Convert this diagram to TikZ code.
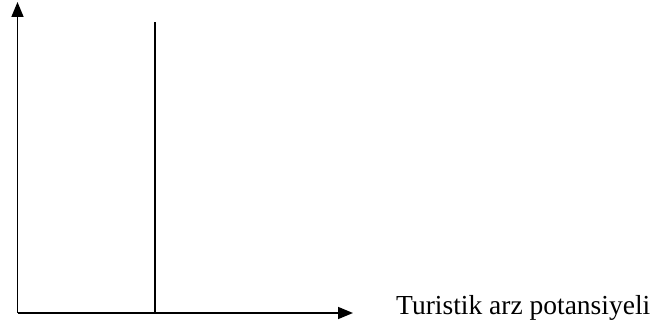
\documentclass[tikz,border=0pt]{standalone}
\usepackage{fontspec}
\setmainfont{Liberation Serif}
\usetikzlibrary{arrows.meta}
\begin{document}
\begin{tikzpicture}[x=1pt,y=-1pt,
  axis/.style={line width=1.6pt,-{Triangle[length=15pt,width=12pt]}},
  lbl/.style={font=\fontsize{27.5}{32}\selectfont,anchor=base west,inner sep=0pt}]
\useasboundingbox (0,0) rectangle (657,329);
\coordinate (o) at (17.5,313);
\coordinate (ytip) at (17.5,2);
\coordinate (xtip) at (353,313);
\coordinate (vtop) at (155,22);
\coordinate (vbot) at (155,313);
\draw[axis] (o) -- (ytip);
\draw[axis] (o) -- (xtip);
\draw[line width=1.3pt] (vbot) -- (vtop);
\node[lbl] (t) at (396,314) {Turistik arz potansiyeli};
\end{tikzpicture}
\end{document}
